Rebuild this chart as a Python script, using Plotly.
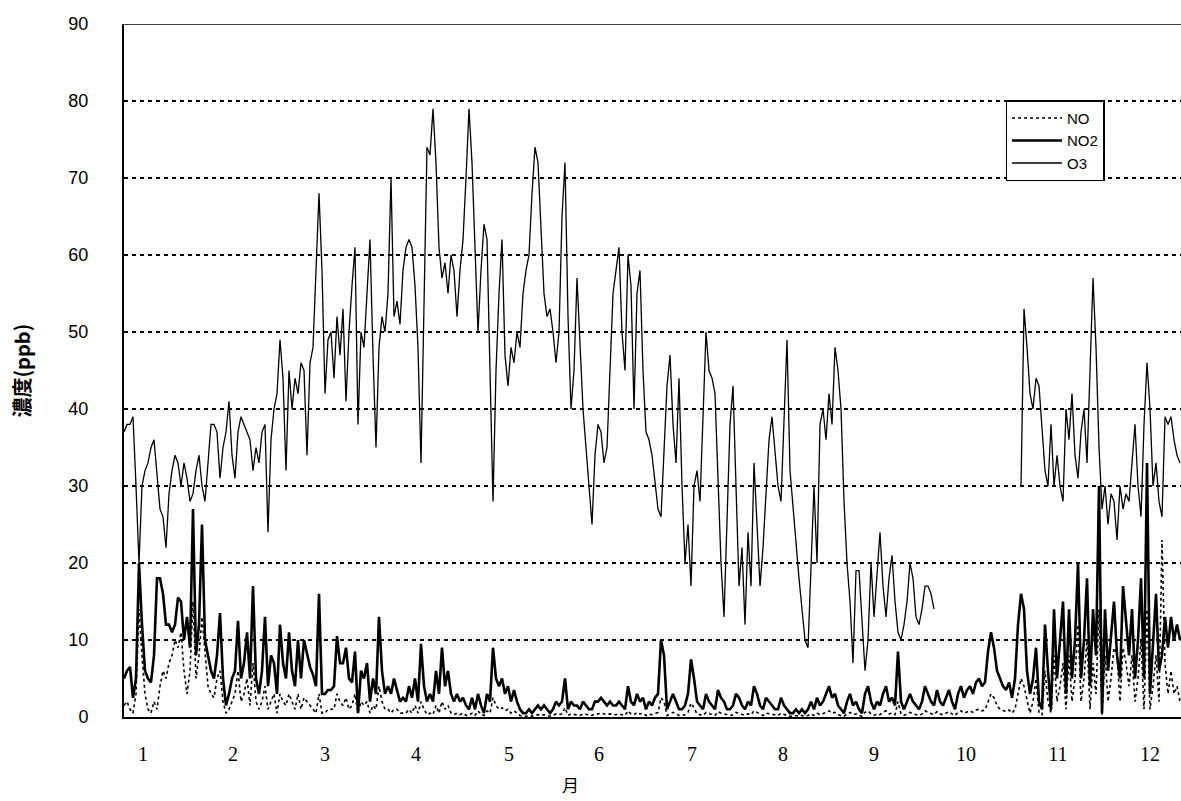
import plotly.graph_objects as go

# ---- data (daily values, day index 0..352) ----
month_labels = ["1", "2", "3", "4", "5", "6", "7", "8", "9", "10", "11", "12"]
month_tick_days = [6.3, 36.3, 67.0, 97.3, 128.3, 158.3, 189.3, 219.7, 250.0, 280.7, 311.3, 342.0]
y_ticks = [0, 10, 20, 30, 40, 50, 60, 70, 80, 90]

no_vals = [
    1.5, 2, 1, 0.5, 3, 14, 8, 3, 1, 0.5,
    2, 1, 4, 6, 5, 7, 8, 10, 9, 11,
    6, 3, 6, 15, 5, 8, 13, 9, 4, 3,
    2.5, 5, 6, 2, 0.5, 1, 2, 3, 6, 2,
    3, 5, 1.5, 7, 2, 1, 2, 4, 1, 2,
    3, 0.5, 3, 2, 1.5, 3, 2, 1, 3, 1,
    2.5, 2, 1.5, 1, 0.5, 3, 0.5, 0.5, 1, 1,
    1, 3, 2, 1.5, 2.5, 1, 1.5, 3, 0.5, 2,
    1.5, 2, 0.5, 1.5, 1, 4, 2, 1, 1, 0.5,
    1, 1, 0.5, 0.5, 0.5, 1, 0.5, 1.5, 0.5, 2,
    1, 0.3, 0.5, 0.3, 1.5, 0.5, 2, 1, 1.5, 0.5,
    0.3, 0.5, 0.3, 0.5, 0.2, 0.2, 0.5, 0.2, 0.8, 0.3,
    0.2, 0.8, 0.5, 2.5, 1.5, 1, 1.2, 0.8, 1, 0.5,
    0.8, 0.5, 0.2, 0.1, 0.1, 0.2, 0.1, 0.2, 0.3, 0.2,
    0.3, 0.2, 0.1, 0.2, 0.4, 0.3, 0.4, 1.2, 0.2, 0.4,
    0.3, 0.3, 0.2, 0.4, 0.3, 0.2, 0.2, 0.4, 0.4, 0.5,
    0.4, 0.3, 0.4, 0.3, 0.3, 0.4, 0.3, 0.2, 0.8, 0.4,
    0.3, 0.6, 0.4, 0.5, 0.2, 0.4, 0.3, 0.5, 0.6, 2.5,
    2, 0.2, 0.4, 0.6, 0.4, 0.2, 0.2, 0.3, 0.6, 1.8,
    1.2, 0.4, 0.3, 0.2, 0.6, 0.4, 0.3, 0.2, 0.7, 0.5,
    0.4, 0.2, 0.2, 0.3, 0.6, 0.5, 0.3, 0.2, 0.4, 0.3,
    0.8, 0.6, 0.3, 0.2, 0.5, 0.4, 0.3, 0.2, 0.2, 0.5,
    0.3, 0.2, 0.1, 0.1, 0.2, 0.1, 0.2, 0.1, 0.2, 0.4,
    0.2, 0.5, 0.3, 0.4, 0.6, 0.8, 0.5, 0.6, 0.3, 0.2,
    0.1, 0.4, 0.6, 0.3, 0.4, 0.2, 0.1, 0.6, 0.8, 0.4,
    0.2, 0.4, 0.3, 0.6, 0.8, 0.4, 0.5, 0.3, 2, 0.4,
    0.2, 0.4, 0.6, 0.4, 0.3, 0.2, 0.4, 0.8, 0.6, 0.4,
    0.3, 0.7, 0.4, 0.3, 0.5, 0.7, 0.4, 0.2, 0.6, 0.8,
    0.5, 0.7, 0.8, 0.6, 0.9, 1, 0.8, 0.9, 2, 3,
    2.5, 1.5, 1, 0.8, 0.7, 0.9, 0.5, 1, 3, 5,
    4, 2, 0.5, 2, 5, 0.5, 0.3, 6, 2, 0.5,
    8, 2, 4, 7, 1, 8, 2, 5, 12, 2,
    5, 10, 1, 7, 3, 14, 0.3, 8, 2, 5,
    9, 8, 2, 9, 7, 4, 8, 2, 5, 10,
    1, 14, 1, 4, 8, 2, 23, 7, 3, 6,
    3, 4, 2,
]

no2_vals = [
    5, 6, 6.5, 2.5, 5, 20, 12, 6, 5, 4.5,
    8, 18, 18, 16, 12, 12, 11, 12, 15.5, 15,
    10, 13, 9, 27, 8, 12, 25, 10, 8, 6,
    5, 8, 13.5, 5, 1.5, 3, 5, 6, 12.5, 5,
    7, 11, 5, 17, 5, 3, 6, 13, 4, 8,
    7, 3, 12, 7, 5, 11, 6, 4, 10, 5,
    10, 8, 6.5, 5.5, 4, 16, 3, 3, 3.5, 3.5,
    4, 10.5, 7, 7, 9, 5, 4.5, 8.5, 0.5, 6,
    5, 7, 2, 5, 3, 13, 6, 3, 4, 3,
    5, 3.5, 2, 2.5, 2, 4, 2.5, 5, 2, 9.5,
    4, 2, 3, 2, 6, 3, 9, 4, 6, 3,
    2, 3, 2, 2.5, 1.5, 1, 2.5, 1, 3, 1.5,
    0.5, 3, 2, 9, 5, 4, 5, 3, 4, 2,
    3.5, 2, 1, 0.5, 0.5, 1, 0.5, 1, 1.5, 1,
    1.5, 1, 0.5, 1, 2, 1.5, 2, 5, 1, 2,
    1.5, 1.5, 1, 2, 1.5, 1, 1, 2, 2, 2.5,
    2, 1.5, 2, 1.5, 1.5, 2, 1.5, 1, 4, 2,
    1.5, 3, 2, 2.5, 1, 2, 1.5, 2.5, 3, 10,
    8, 1, 2, 3, 2, 1, 1, 1.5, 3, 7.5,
    5, 2, 1.5, 1, 3, 2, 1.5, 1, 3.5, 2.5,
    2, 1, 1, 1.5, 3, 2.5, 1.5, 1, 2, 1.5,
    4, 3, 1.5, 1, 2.5, 2, 1.5, 1, 1, 2.5,
    1.5, 1, 0.5, 0.5, 1, 0.5, 1, 0.5, 1, 2,
    1, 2.5, 1.5, 2, 3, 4, 2.5, 3, 1.5, 1,
    0.5, 2, 3, 1.5, 2, 1, 0.5, 3, 4, 2,
    1, 2, 1.5, 3, 4, 2, 2.5, 1.5, 8.5, 2,
    1, 2, 3, 2, 1.5, 1, 2, 4, 3, 2,
    1.5, 3.5, 2, 1.5, 2.5, 3.5, 2, 1, 3, 4,
    2.5, 3.5, 4, 3, 4.5, 5, 4, 4.5, 8.5, 11,
    9, 6, 5, 4, 3.5, 4.5, 2.5, 5, 12, 16,
    14, 6, 3, 5, 9, 2, 1, 12, 6, 1,
    14, 5, 10, 15, 3, 14, 5, 10, 20, 5,
    10, 18, 4, 14, 8, 30, 0.5, 14, 6, 10,
    15, 8, 5, 17, 12, 8, 14, 5, 10, 18,
    5, 33, 3, 10, 16, 6, 8, 13, 9, 13,
    10, 12, 10,
]

o3_vals = [
    37, 38, 38, 39, 30, 20, 30, 32, 33, 35,
    36, 31, 27, 26, 22, 29, 32, 34, 33, 30,
    33, 31, 28, 29, 32, 34, 30, 28, 33, 38,
    38, 37, 31, 35, 37, 41, 34, 31, 37, 39,
    38, 37, 36, 32, 35, 33, 37, 38, 24, 36,
    40, 42, 49, 44, 32, 45, 40, 44, 42, 46,
    45, 34, 46, 48, 58, 68, 58, 42, 49, 50,
    44, 52, 47, 53, 41, 50, 56, 61, 38, 50,
    48, 55, 62, 47, 35, 48, 52, 50, 55, 70,
    52, 54, 51, 58, 61, 62, 61, 56, 48, 33,
    52, 74, 73, 79, 72, 61, 57, 59, 55, 60,
    58, 52, 58, 62, 70, 79, 72, 60, 50, 58,
    64, 62, 45, 28, 45, 55, 62, 47, 43, 48,
    46, 50, 48, 55, 58, 60, 68, 74, 72, 64,
    55, 52, 53, 50, 46, 50, 65, 72, 52, 40,
    45, 57, 48, 40, 35, 30, 25, 34, 38, 37,
    33, 35, 45, 55, 58, 61, 50, 45, 60, 56,
    40, 55, 58, 45, 37, 36, 34, 30, 27, 26,
    34, 43, 47, 38, 33, 44, 30, 20, 25, 17,
    30, 32, 28, 40, 50, 45, 44, 42, 30, 20,
    13, 25, 38, 43, 30, 17, 22, 12, 24, 17,
    33, 24, 17, 22, 30, 36, 39, 35, 30, 28,
    40, 49, 32, 27, 22, 18, 14, 10, 9, 20,
    30, 20, 38, 40, 36, 42, 38, 48, 45, 40,
    28, 20, 15, 7, 19, 19, 12, 6, 10, 20,
    13, 18, 24, 17, 13, 18, 21, 15, 11, 10,
    12, 15, 20, 18, 13, 12, 14, 17, 17, 16,
    14, None, None, None, None, None, None, None, None, None,
    None, None, None, None, None, None, None, None, None, None,
    None, None, None, None, None, None, None, None, None, 30,
    53, 48, 42, 40, 44, 43, 38, 32, 30, 38,
    30, 34, 30, 28, 40, 36, 42, 34, 31, 37,
    40, 33, 45, 57, 48, 35, 27, 30, 25, 29,
    28, 23, 30, 27, 29, 28, 33, 38, 30, 26,
    38, 46, 40, 30, 33, 28, 26, 39, 38, 39,
    36, 34, 33,
]

days = list(range(len(o3_vals)))

fig = go.Figure()
fig.add_trace(go.Scatter(x=days, y=no_vals, name="NO", mode="lines",
                         line=dict(color="black", width=1.6, dash="dot")))
fig.add_trace(go.Scatter(x=days, y=no2_vals, name="NO2", mode="lines",
                         line=dict(color="black", width=2.6)))
fig.add_trace(go.Scatter(x=days, y=o3_vals, name="O3", mode="lines",
                         line=dict(color="black", width=1.3), connectgaps=False))

fig.update_layout(
    width=1181, height=801,
    margin=dict(l=124, r=0, t=24, b=84, autoexpand=False),
    paper_bgcolor="white", plot_bgcolor="white",
    showlegend=True,
    legend=dict(x=0.834, y=0.89, xanchor="left", yanchor="top",
                bgcolor="white", bordercolor="black", borderwidth=1.5,
                font=dict(family="Liberation Sans, Arial", size=15, color="black"),
                itemwidth=50, tracegroupgap=0),
    xaxis=dict(range=[0, 352.33], tickvals=month_tick_days, ticktext=month_labels,
               showgrid=False, zeroline=False, showline=True, linecolor="black",
               linewidth=2, ticks="", ticklabelstandoff=18, automargin=False,
               tickfont=dict(family="Liberation Serif, Times New Roman", size=20, color="black")),
    yaxis=dict(range=[0, 90], tickvals=y_ticks, showgrid=True, gridcolor="black",
               gridwidth=1.8, griddash="4px,4px", zeroline=False, showline=True,
               linecolor="black", linewidth=2, ticks="", ticklabelstandoff=30,
               automargin=False,
               tickfont=dict(family="Liberation Sans, Arial", size=18, color="black")),
    annotations=[
        dict(text="<b>濃度(ppb)</b>", xref="paper", yref="paper", x=-0.0965, y=0.5,
             textangle=-90, showarrow=False, xanchor="center", yanchor="middle",
             font=dict(family="Noto Sans CJK JP", size=20, color="black")),
        dict(text="月", xref="paper", yref="paper", x=0.422, y=-0.098,
             showarrow=False, xanchor="center", yanchor="middle",
             font=dict(family="Noto Sans CJK JP", size=17, color="black")),
    ],
    shapes=[dict(type="line", xref="paper", yref="y", x0=0, x1=1, y0=90, y1=90,
                 line=dict(color="black", width=1.5))],
)

fig.write_html(
    "out.html",
    config={"displayModeBar": False},
    post_script="document.body.style.margin='0';document.body.style.overflow='hidden';",
)
